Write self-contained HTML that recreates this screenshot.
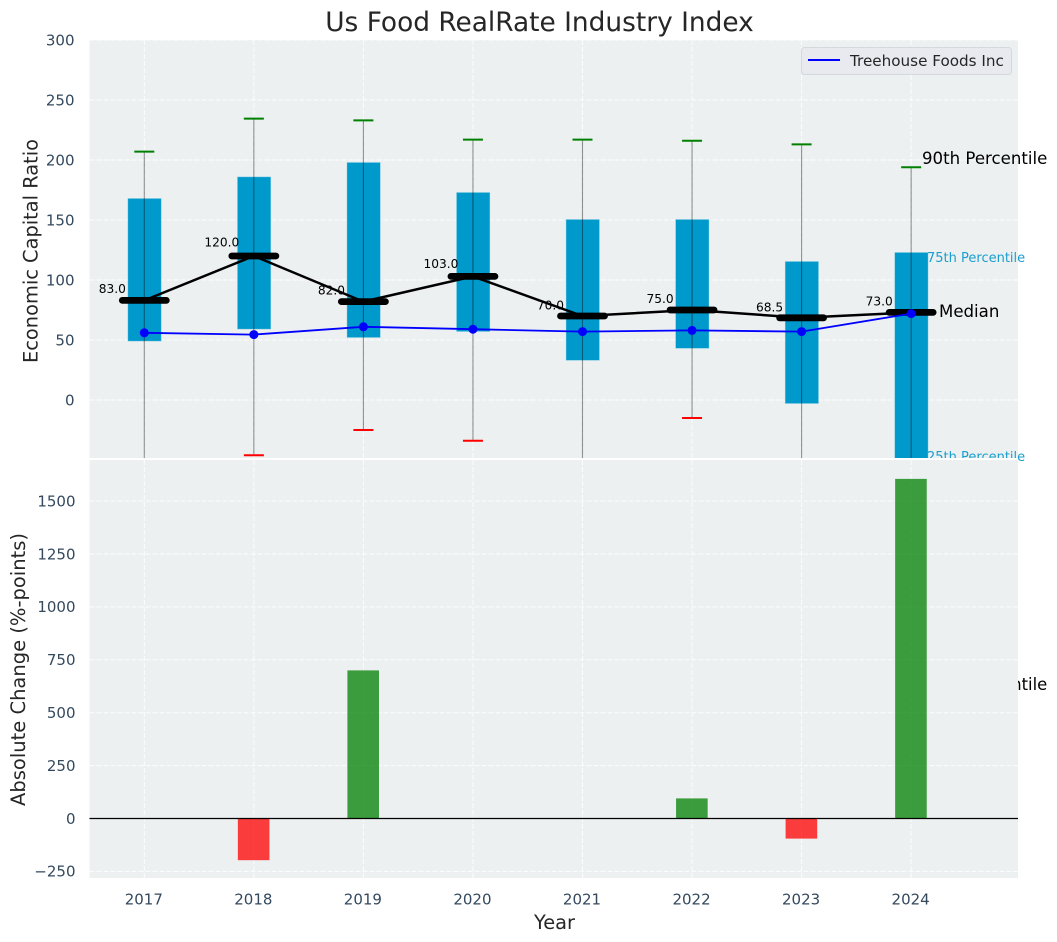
<!DOCTYPE html>
<html lang="en">
<head>
<meta charset="utf-8">
<title>Us Food RealRate Industry Index</title>
<style>
html,body{margin:0;padding:0;background:#fff;}
svg{display:block;font-family:"DejaVu Sans","Liberation Sans",sans-serif;}
</style>
</head>
<body>
<svg id="chart" xmlns="http://www.w3.org/2000/svg" width="1057" height="942" viewBox="0 0 1057 942">
  <defs>
    <clipPath id="top-clip"><rect x="89.5" y="40" width="928.5" height="418"/></clipPath>
    <clipPath id="bottom-clip"><rect x="89.5" y="460" width="928.5" height="418"/></clipPath>
  </defs>
  <text x="539.5" y="31" text-anchor="middle" font-size="26.4px" fill="#262626">Us Food RealRate Industry Index</text>
  <rect x="89.5" y="40" width="928.5" height="418" fill="#ecf0f1"/>
  <g id="top-grid"></g>
  <g id="top-marks" clip-path="url(#top-clip)"></g>
  <g id="top-labels"></g>
  <g id="top-ticks"></g>
  <text transform="translate(37.5,251) rotate(-90)" text-anchor="middle" font-size="19.4px" fill="#262626">Economic Capital Ratio</text>
  <text x="922" y="164" font-size="16.6px" fill="#000">90th Percentile</text>
  <text x="923.5" y="690" font-size="16.4px" fill="#000">10th Percentile</text>
  <text x="927" y="262" font-size="13px" fill="#1a9fce">75th Percentile</text>
  <text x="927" y="461" font-size="13px" fill="#1a9fce">25th Percentile</text>
  <text x="939" y="317" font-size="16.6px" fill="#000">Median</text>
  <g>
    <rect x="801.5" y="47.5" width="210" height="27" rx="3" fill="#e8eaef" stroke="#d5d8dc"/>
    <line x1="808" y1="60" x2="840" y2="60" stroke="#0000ff" stroke-width="2"/>
    <text x="850" y="66" font-size="15.2px" fill="#262626">Treehouse Foods Inc</text>
  </g>
  <rect x="89.5" y="458" width="928.5" height="2" fill="#fff"/>
  <rect x="89.5" y="460" width="928.5" height="418" fill="#ecf0f1"/>
  <g id="bottom-grid"></g>
  <g id="bottom-marks" clip-path="url(#bottom-clip)"></g>
  <line x1="89.5" y1="818.5" x2="1018" y2="818.5" stroke="#000" stroke-width="1.2"/>
  <g id="bottom-ticks"></g>
  <g id="x-ticks"></g>
  <text transform="translate(25,669.5) rotate(-90)" text-anchor="middle" font-size="19.5px" fill="#262626">Absolute Change (%-points)</text>
  <text x="554.5" y="929" text-anchor="middle" font-size="19.4px" fill="#262626">Year</text>
</svg>
<script>
const years = ['2017','2018','2019','2020','2021','2022','2023','2024'];
const p90 = [207,234.5,233,217,217,216,213,194];
const p75 = [168,186,198,173,150.5,150.5,115.5,123];
const medians = [83,120,82,103,70,75,68.5,73];
const p25 = [49,59,52,57,33,43,-3,-60];
const p10 = [-70,-46,-25,-34,-80,-15,-70,-90];
const treehouse = [56,54.5,61,59,57,58,57,72];
const changes = [0,-197,700,0,0,95,-95,1605];
const topTicks = [0,50,100,150,200,250,300];
const bottomTicks = [-250,0,250,500,750,1000,1250,1500];

const NS = 'http://www.w3.org/2000/svg';
function xPos(i){ return 144.3 + i * 109.55; }
function yTop(v){ return 400 - v * 1.2; }
function yBottom(v){ return 818.5 - v * 0.2116; }
function mk(tag, attrs, parent, txt){
  const el = document.createElementNS(NS, tag);
  for (const k in attrs) el.setAttribute(k, attrs[k]);
  if (txt !== undefined) el.textContent = txt;
  parent.appendChild(el);
  return el;
}
const byId = id => document.getElementById(id);
const gridAttrs = {stroke:'#ffffff','stroke-width':1,'stroke-dasharray':'5 2','stroke-opacity':0.85};

topTicks.forEach(v => {
  const y = yTop(v);
  const g = mk('line', Object.assign({x1:89.5,x2:1018,y1:y,y2:y}, gridAttrs), byId('top-grid'));
  
  
  const t = mk('text', {x:74.5,y:y+5.3,'text-anchor':'end','font-size':'15px',fill:'#34495e'}, byId('top-ticks'), String(v));
  
  
});
bottomTicks.forEach(v => {
  const y = yBottom(v);
  const g = mk('line', Object.assign({x1:89.5,x2:1018,y1:y,y2:y}, gridAttrs), byId('bottom-grid'));
  
  
  const t = mk('text', {x:75.5,y:y+5.3,'text-anchor':'end','font-size':'15px',fill:'#34495e'}, byId('bottom-ticks'), String(v).replace('-','\u2212'));
  
  
});
years.forEach((yr, i) => {
  const x = xPos(i);
  const a = mk('line', Object.assign({x1:x,x2:x,y1:40,y2:458}, gridAttrs), byId('top-grid'));
  
  
  const b = mk('line', Object.assign({x1:x,x2:x,y1:460,y2:878}, gridAttrs), byId('bottom-grid'));
  
  
  const t = mk('text', {x:x-0.5,y:904.5,'text-anchor':'middle','font-size':'15px',fill:'#34495e'}, byId('x-ticks'), yr);
  
  
});

const topMarks = byId('top-marks');
years.forEach((yr, i) => {
  const x = xPos(i);
  const box = mk('rect', {x:x-16.5,y:yTop(p75[i]),width:33.5,height:yTop(p25[i])-yTop(p75[i]),fill:'#0099cc',stroke:'#bfe4f0','stroke-opacity':0.5,'stroke-width':0.8}, topMarks);
  
  
});
years.forEach((yr, i) => {
  const x = xPos(i);
  const w = mk('line', {x1:x,x2:x,y1:yTop(p90[i]),y2:yTop(p10[i]),stroke:'#000','stroke-opacity':0.42,'stroke-width':1.1}, topMarks);
  
  
  const hi = mk('line', {x1:x-10,x2:x+10,y1:yTop(p90[i]),y2:yTop(p90[i]),stroke:'#008000','stroke-width':2}, topMarks);
  
  
  const lo = mk('line', {x1:x-10,x2:x+10,y1:yTop(p10[i]),y2:yTop(p10[i]),stroke:'#ff0000','stroke-width':2}, topMarks);
  
  
});
const medianLine = mk('polyline', {points:medians.map((v,i)=>xPos(i)+','+yTop(v)).join(' '),fill:'none',stroke:'#000','stroke-width':2.5}, topMarks);


medians.forEach((v, i) => {
  const x = xPos(i);
  const m = mk('line', {x1:x-22,x2:x+22,y1:yTop(v),y2:yTop(v),stroke:'#000','stroke-width':6.8,'stroke-linecap':'round'}, topMarks);
  
  
  const t = mk('text', {x:x-32,y:yTop(v*1.05+2),'text-anchor':'middle','font-size':'12.2px',fill:'#000'}, byId('top-labels'), v.toFixed(1));
  
  
});
const blue = mk('polyline', {points:treehouse.map((v,i)=>xPos(i)+','+yTop(v)).join(' '),fill:'none',stroke:'#0000ff','stroke-width':1.8}, topMarks);


treehouse.forEach((v, i) => {
  const c = mk('circle', {cx:xPos(i),cy:yTop(v),r:4.5,fill:'#0000ff'}, topMarks);
  
  
});

changes.forEach((v, i) => {
  if (v === 0) return;
  const y0 = yBottom(0), y1 = yBottom(v);
  const r = mk('rect', {x:xPos(i)-16,y:Math.min(y0,y1),width:31.6,height:Math.abs(y1-y0),fill:v>0?'#008000':'#ff0000','fill-opacity':0.75}, byId('bottom-marks'));
  
  
});
</script>
</body>
</html>
